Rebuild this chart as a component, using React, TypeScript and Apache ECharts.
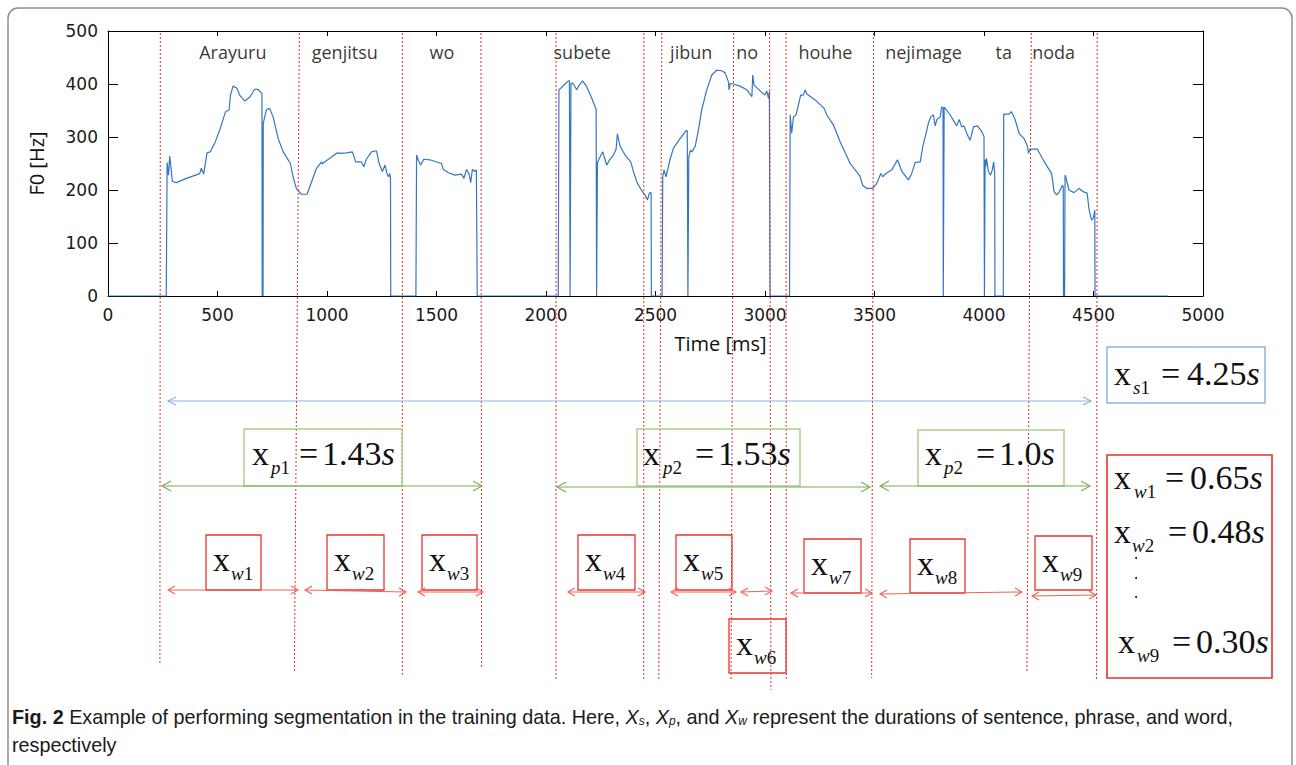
import React, { useEffect, useRef } from "react";
import * as echarts from "echarts";

// ---------- data ----------
const timeMs = [
  0, 266, 270, 276, 282, 294, 312, 358, 419, 426, 437, 452, 467, 487, 510, 537, 553, 559, 571, 589, 601, 624, 647, 670, 685, 703, 704, 708, 709, 723, 738, 754, 777, 800, 833, 845, 860, 883, 909, 924, 952, 975, 979, 985, 1013, 1046, 1061, 1089, 1116, 1131, 1157, 1168, 1180, 1203, 1226, 1238, 1253, 1265, 1274, 1281, 1287, 1290, 1291,
  1406, 1409, 1416, 1427, 1442, 1469, 1523, 1530, 1553, 1584, 1614, 1625, 1637, 1649, 1656, 1664, 1675, 1682, 1686,
  2056, 2059, 2067, 2087, 2102, 2107, 2110, 2113, 2114, 2120, 2128, 2140, 2152, 2167, 2186, 2209, 2229, 2231, 2234, 2235, 2244, 2259, 2270, 2277, 2292, 2308, 2320, 2326, 2338, 2361, 2387, 2402, 2417, 2437, 2452, 2463, 2472, 2480, 2481,
  2530, 2533, 2539, 2548, 2566, 2582, 2612, 2640, 2645, 2648, 2651, 2652, 2660, 2666, 2681, 2696, 2711, 2734, 2757, 2780, 2802, 2818, 2833, 2836, 2841, 2856, 2886, 2917, 2940, 2944, 2950, 2978, 3000, 3008, 3016, 3020, 3023,
  3112, 3115, 3122, 3130, 3142, 3163, 3175, 3183, 3191, 3229, 3270, 3282, 3312, 3343, 3389, 3434, 3446, 3464, 3492, 3511, 3529, 3538, 3549, 3579, 3605, 3625, 3655, 3670, 3686, 3709, 3721, 3739, 3746, 3757, 3769, 3777, 3785, 3800, 3807, 3813, 3814, 3817, 3818, 3823, 3845, 3875, 3887, 3898, 3909, 3924, 3937, 3952, 3970, 3990, 4000, 4002, 4004, 4005, 4008, 4011, 4020, 4030, 4038, 4044, 4049, 4050,
  4088, 4090, 4114, 4125, 4142, 4160, 4183, 4198, 4203, 4209, 4244, 4266, 4289, 4309, 4320, 4332, 4345, 4358, 4362, 4363, 4368, 4370, 4373, 4388, 4411, 4434, 4452, 4471, 4479, 4491, 4499, 4506, 4507, 4840,
];
const f0Hz = [
  0, 0, 252, 228, 264, 216, 214, 222, 231, 241, 230, 270, 272, 288, 313, 348, 351, 379, 396, 392, 379, 368, 375, 390, 390, 382, 0, 0, 326, 351, 354, 338, 297, 272, 250, 225, 203, 192, 192, 209, 241, 253, 249, 252, 260, 270, 269, 270, 272, 253, 253, 244, 258, 272, 274, 250, 235, 247, 231, 225, 231, 219, 0,
  0, 266, 257, 247, 258, 257, 250, 239, 233, 228, 230, 222, 239, 230, 214, 239, 235, 238, 0,
  0, 389, 392, 400, 406, 406, 0, 0, 400, 402, 398, 389, 398, 406, 395, 373, 352, 0, 0, 252, 260, 272, 257, 247, 258, 266, 277, 306, 283, 266, 253, 231, 213, 199, 191, 181, 194, 195, 0,
  0, 226, 238, 225, 257, 279, 297, 312, 312, 0, 0, 262, 275, 272, 282, 313, 351, 389, 417, 426, 425, 421, 404, 389, 401, 400, 396, 389, 376, 417, 398, 387, 379, 387, 373, 386, 0,
  0, 342, 307, 338, 342, 379, 379, 389, 381, 370, 354, 342, 323, 291, 250, 226, 209, 203, 203, 213, 231, 225, 230, 238, 257, 235, 219, 231, 252, 253, 283, 313, 326, 338, 342, 321, 333, 338, 357, 355, 0, 0, 356, 354, 342, 321, 333, 319, 321, 304, 294, 319, 321, 310, 301, 0, 0, 257, 244, 260, 235, 228, 238, 253, 231, 0,
  0, 343, 343, 348, 333, 307, 297, 283, 269, 277, 277, 260, 244, 231, 197, 191, 197, 209, 206, 0, 0, 228, 225, 200, 195, 203, 197, 194, 165, 143, 147, 162, 0, 0,
];

const wordLabels = ["Arayuru", "genjitsu", "wo", "subete", "jibun", "no", "houhe", "nejimage", "ta", "noda"];
const wordCenterMs = [570, 1081, 1525, 2165, 2663, 2919, 3276, 3724, 4090, 4318];
const wordLabelHz = 460;

// segment boundaries (ms) at the top of the plot and where the dotted line ends below
const boundaryTopMs = [239, 874, 1344, 1703, 2046, 2447, 2529, 2857, 3021, 3096, 3496, 4216, 4517];
const boundaryBottomMs = [237, 851, 1344, 1706, 2046, 2446, 2515, 2845, 3027, 3097, 3487, 4196, 4514];

const sentenceLabel = { sub: "s", digit: "1", value: "4.25" };
const phraseValues = ["1.43", "1.53", "1.0"];
const phraseSubDigits = ["1", "2", "2"];
const wordValueRows = [
  { digit: "1", value: "0.65" },
  { digit: "2", value: "0.48" },
  { digit: "9", value: "0.30" },
];
const wordIndices = ["1", "2", "3", "4", "5", "6", "7", "8", "9"];

// ---------- layout (pixels) ----------
const lineEndY = [663, 672, 676, 669, 680, 680, 680, 680, 690, 680, 678, 673, 680];
const blueArrow = [168, 401, 1091, 401];
const greenArrows = [
  [162, 486, 482, 486],
  [557, 487, 870, 487],
  [880, 486, 1090, 486],
];
const greenBoxes = [
  [244, 429, 158, 57],
  [637, 429, 163, 57],
  [918, 430, 146, 56],
];
const phraseText = [
  [252, 465, 271, 299, 322],
  [643, 465, 663, 695, 718],
  [925, 465, 944, 976, 999],
];
const redArrows = [
  [168, 590, 298, 590],
  [305, 590, 406, 592],
  [418, 592, 483, 592],
  [568, 592, 645, 592],
  [671, 592, 736, 592],
  [741, 592, 772, 591],
  [791, 593, 872, 593],
  [880, 594, 1022, 592],
  [1032, 596, 1096, 595],
];
const redBoxes = [
  [206, 535, 55, 55],
  [327, 535, 57, 55],
  [422, 535, 55, 55],
  [578, 535, 57, 55],
  [676, 535, 56, 55],
  [729, 619, 57, 54],
  [804, 539, 57, 54],
  [910, 539, 55, 54],
  [1035, 536, 57, 54],
];
const rightRows = [
  [1114, 489, 1134, 1165, 1190],
  [1114, 543, 1132, 1168, 1192],
  [1118, 653, 1137, 1172, 1196],
];

const SERIF = '"Liberation Serif", "Times New Roman", serif';
const SANS = '"Open Sans", "Noto Sans", sans-serif';
const CAP = '"Liberation Sans", Arial, sans-serif';
const INK = "#111111";
const F = 34;
const f = 19;
const CAPSIZE = 19.8;

function mainText(text: string, x: number, yb: number, size = F) {
  return {
    type: "text",
    x,
    y: yb - 0.3375 * size,
    z: 20,
    style: { text, fontSize: size, fontFamily: SERIF, fill: INK, align: "left", verticalAlign: "middle" },
  };
}

function richText(text: string, x: number, yb: number, size: number) {
  return {
    type: "text",
    x,
    y: yb - 0.3375 * size,
    z: 20,
    style: {
      text,
      fontSize: size,
      fontFamily: SERIF,
      fill: INK,
      align: "left",
      verticalAlign: "middle",
      rich: {
        i: { fontSize: size, fontFamily: SERIF, fontStyle: "italic", fill: INK },
        r: { fontSize: size, fontFamily: SERIF, fill: INK },
      },
    },
  };
}

function symbolWithSub(x0: number, yb: number, subX: number, letter: string, digit: string) {
  return [mainText("x", x0, yb), richText(`{i|${letter}}{r|${digit}}`, subX, yb + 8.5, f)];
}

function equation(x0: number, yb: number, subX: number, eqX: number, numX: number, letter: string, digit: string, value: string) {
  return [
    ...symbolWithSub(x0, yb, subX, letter, digit),
    mainText("=", eqX, yb),
    richText(`{r|${value}}{i|s}`, numX, yb, F),
  ];
}

function arrow(a: number[], color: string, w: number, len: number, half: number) {
  const [x1, y1, x2, y2] = a;
  return [
    { type: "line", z: 15, shape: { x1, y1, x2, y2 }, style: { stroke: color, lineWidth: w } },
    {
      type: "polyline", z: 15,
      shape: { points: [[x1 + len, y1 - half], [x1, y1], [x1 + len, y1 + half]] },
      style: { stroke: color, lineWidth: w, fill: "none" },
    },
    {
      type: "polyline", z: 15,
      shape: { points: [[x2 - len, y2 - half], [x2, y2], [x2 - len, y2 + half]] },
      style: { stroke: color, lineWidth: w, fill: "none" },
    },
  ];
}

function box(b: number[], color: string, w: number) {
  return {
    type: "rect", z: 14,
    shape: { x: b[0], y: b[1], width: b[2], height: b[3] },
    style: { stroke: color, lineWidth: w, fill: "none" },
  };
}

const axisLabelStyle = {
  color: "#1a1a1a",
  fontSize: 17,
  fontFamily: '"DejaVu Sans", sans-serif',
  formatter: (v: number) => String(v),
};

export default function App() {
  const ref = useRef<HTMLDivElement>(null);
  useEffect(() => {
    const chart = echarts.init(ref.current!, null, { renderer: "svg" });
    const lineData = timeMs.map((t, i) => [t, f0Hz[i]]);
    const wordData = wordCenterMs.map((t, i) => ({ value: [t, wordLabelHz], name: wordLabels[i] }));
    chart.setOption({
      animation: false,
      backgroundColor: "#ffffff",
      grid: { left: 108, right: 93, top: 31, bottom: 469, containLabel: false },
      xAxis: [
        {
          type: "value", min: 0, max: 5000, interval: 500, position: "bottom",
          axisLine: { onZero: false, lineStyle: { color: "#000", width: 1 } },
          axisTick: { inside: true, length: 5, lineStyle: { color: "#000" } },
          axisLabel: { ...axisLabelStyle, margin: 10 },
          splitLine: { show: false },
          name: "Time [ms]", nameLocation: "middle", nameGap: 37,
          nameTextStyle: { color: "#111", fontSize: 20, fontFamily: SANS, padding: [0, 0, 0, 130] },
        },
        {
          type: "value", min: 0, max: 5000, interval: 500, position: "top",
          axisLine: { onZero: false, lineStyle: { color: "#000", width: 1 } },
          axisTick: { inside: true, length: 5, lineStyle: { color: "#000" } },
          axisLabel: { show: false }, splitLine: { show: false },
        },
      ],
      yAxis: [
        {
          type: "value", min: 0, max: 500, interval: 100, position: "left",
          axisLine: { show: true, onZero: false, lineStyle: { color: "#000", width: 1 } },
          axisTick: { show: true, inside: true, length: 10, lineStyle: { color: "#000" } },
          axisLabel: { ...axisLabelStyle, margin: 10 },
          splitLine: { show: false },
          name: "F0 [Hz]", nameLocation: "middle", nameGap: 62,
          nameTextStyle: { color: "#111", fontSize: 20, fontFamily: SANS },
        },
        {
          type: "value", min: 0, max: 500, interval: 100, position: "right",
          axisLine: { show: true, onZero: false, lineStyle: { color: "#000", width: 1 } },
          axisTick: { show: true, inside: true, length: 10, lineStyle: { color: "#000" } },
          axisLabel: { show: false }, splitLine: { show: false },
        },
      ],
      series: [
        {
          type: "line", data: lineData, symbol: "none", xAxisIndex: 0, yAxisIndex: 0,
          lineStyle: { color: "#3476c4", width: 1.2 }, itemStyle: { color: "#3476c4" },
        },
        {
          type: "scatter", data: wordData, symbolSize: 1, xAxisIndex: 0, yAxisIndex: 0,
          itemStyle: { color: "rgba(0,0,0,0)" },
          label: {
            show: true, position: "inside", formatter: (p: any) => p.name,
            color: "#000", fontSize: 18, fontFamily: SANS,
          },
        },
      ],
    });

    const px = (v: number) => chart.convertToPixel({ xAxisIndex: 0 }, v) as number;
    const py = (v: number) => chart.convertToPixel({ yAxisIndex: 0 }, v) as number;
    const topY = py(500) + 2;

    const els: any[] = [];
    // outer figure frame
    els.push({
      type: "rect", z: 1,
      shape: { x: 8, y: 8, width: 1284, height: 820, r: 10 },
      style: { stroke: "#8f8f8f", lineWidth: 1.5, fill: "none" },
    });
    // dotted segmentation lines
    boundaryTopMs.forEach((ms, i) => {
      els.push({
        type: "line", z: 12,
        shape: { x1: px(ms), y1: topY, x2: px(boundaryBottomMs[i]), y2: lineEndY[i] },
        style: { stroke: "#ee2a22", lineWidth: 1, lineDash: [2, 2] },
      });
    });
    // sentence
    els.push(...arrow(blueArrow, "#8db3e2", 1.2, 8, 4));
    els.push(box([1107, 347, 158, 56], "#8db3e2", 1.5));
    els.push(...equation(1114, 385, 1133, 1161, 1187, sentenceLabel.sub, sentenceLabel.digit, sentenceLabel.value));
    // phrases
    greenArrows.forEach((a) => els.push(...arrow(a, "#7aae55", 1.2, 9, 5)));
    greenBoxes.forEach((b) => els.push(box(b, "#a9d18e", 1.5)));
    phraseText.forEach((p, i) => els.push(...equation(p[0], p[1], p[2], p[3], p[4], "p", phraseSubDigits[i], phraseValues[i])));
    // words
    redArrows.forEach((a) => els.push(...arrow(a, "#ef625a", 1.1, 7, 4)));
    redBoxes.forEach((b, i) => {
      els.push(box(b, "#e8352d", 1.3));
      const x0 = b[0] + 7;
      const yb = b[1] + 36;
      els.push(...symbolWithSub(x0, yb, x0 + 18, "w", wordIndices[i]));
    });
    els.push(box([1107, 455, 165, 223], "#e8302a", 1.6));
    wordValueRows.forEach((r, i) => {
      const p = rightRows[i];
      els.push(...equation(p[0], p[1], p[2], p[3], p[4], "w", r.digit, r.value));
    });
    [558, 578, 597].forEach((y) => {
      els.push({ type: "circle", z: 20, shape: { cx: 1136, cy: y, r: 1 }, style: { fill: INK } });
    });
    // caption
    const capRich = {
      b: { fontSize: CAPSIZE, fontFamily: CAP, fontWeight: "bold", fill: "#1a1a1a" },
      i: { fontSize: CAPSIZE, fontFamily: CAP, fontStyle: "italic", fill: "#1a1a1a" },
      s: { fontSize: 12, fontFamily: CAP, fontStyle: "italic", fill: "#1a1a1a", padding: [8, 0, 0, 0] },
    };
    els.push({
      type: "text", x: 12, y: 717, z: 20,
      style: {
        text: "{b|Fig. 2} Example of performing segmentation in the training data. Here, {i|X}{s|s}, {i|X}{s|p}, and {i|X}{s|w} represent the durations of sentence, phrase, and word,",
        fontSize: CAPSIZE, fontFamily: CAP, fill: "#1a1a1a",
        align: "left", verticalAlign: "middle", rich: capRich,
      },
    });
    els.push({
      type: "text", x: 12, y: 745, z: 20,
      style: {
        text: "respectively", fontSize: CAPSIZE, fontFamily: CAP, fill: "#1a1a1a",
        align: "left", verticalAlign: "middle",
      },
    });

    chart.setOption({ graphic: { elements: els } });
    return () => chart.dispose();
  }, []);
  return (
    <div
      ref={ref}
      style={{ position: "fixed", left: 0, top: 0, width: 1296, height: 765, background: "#ffffff" }}
    />
  );
}
